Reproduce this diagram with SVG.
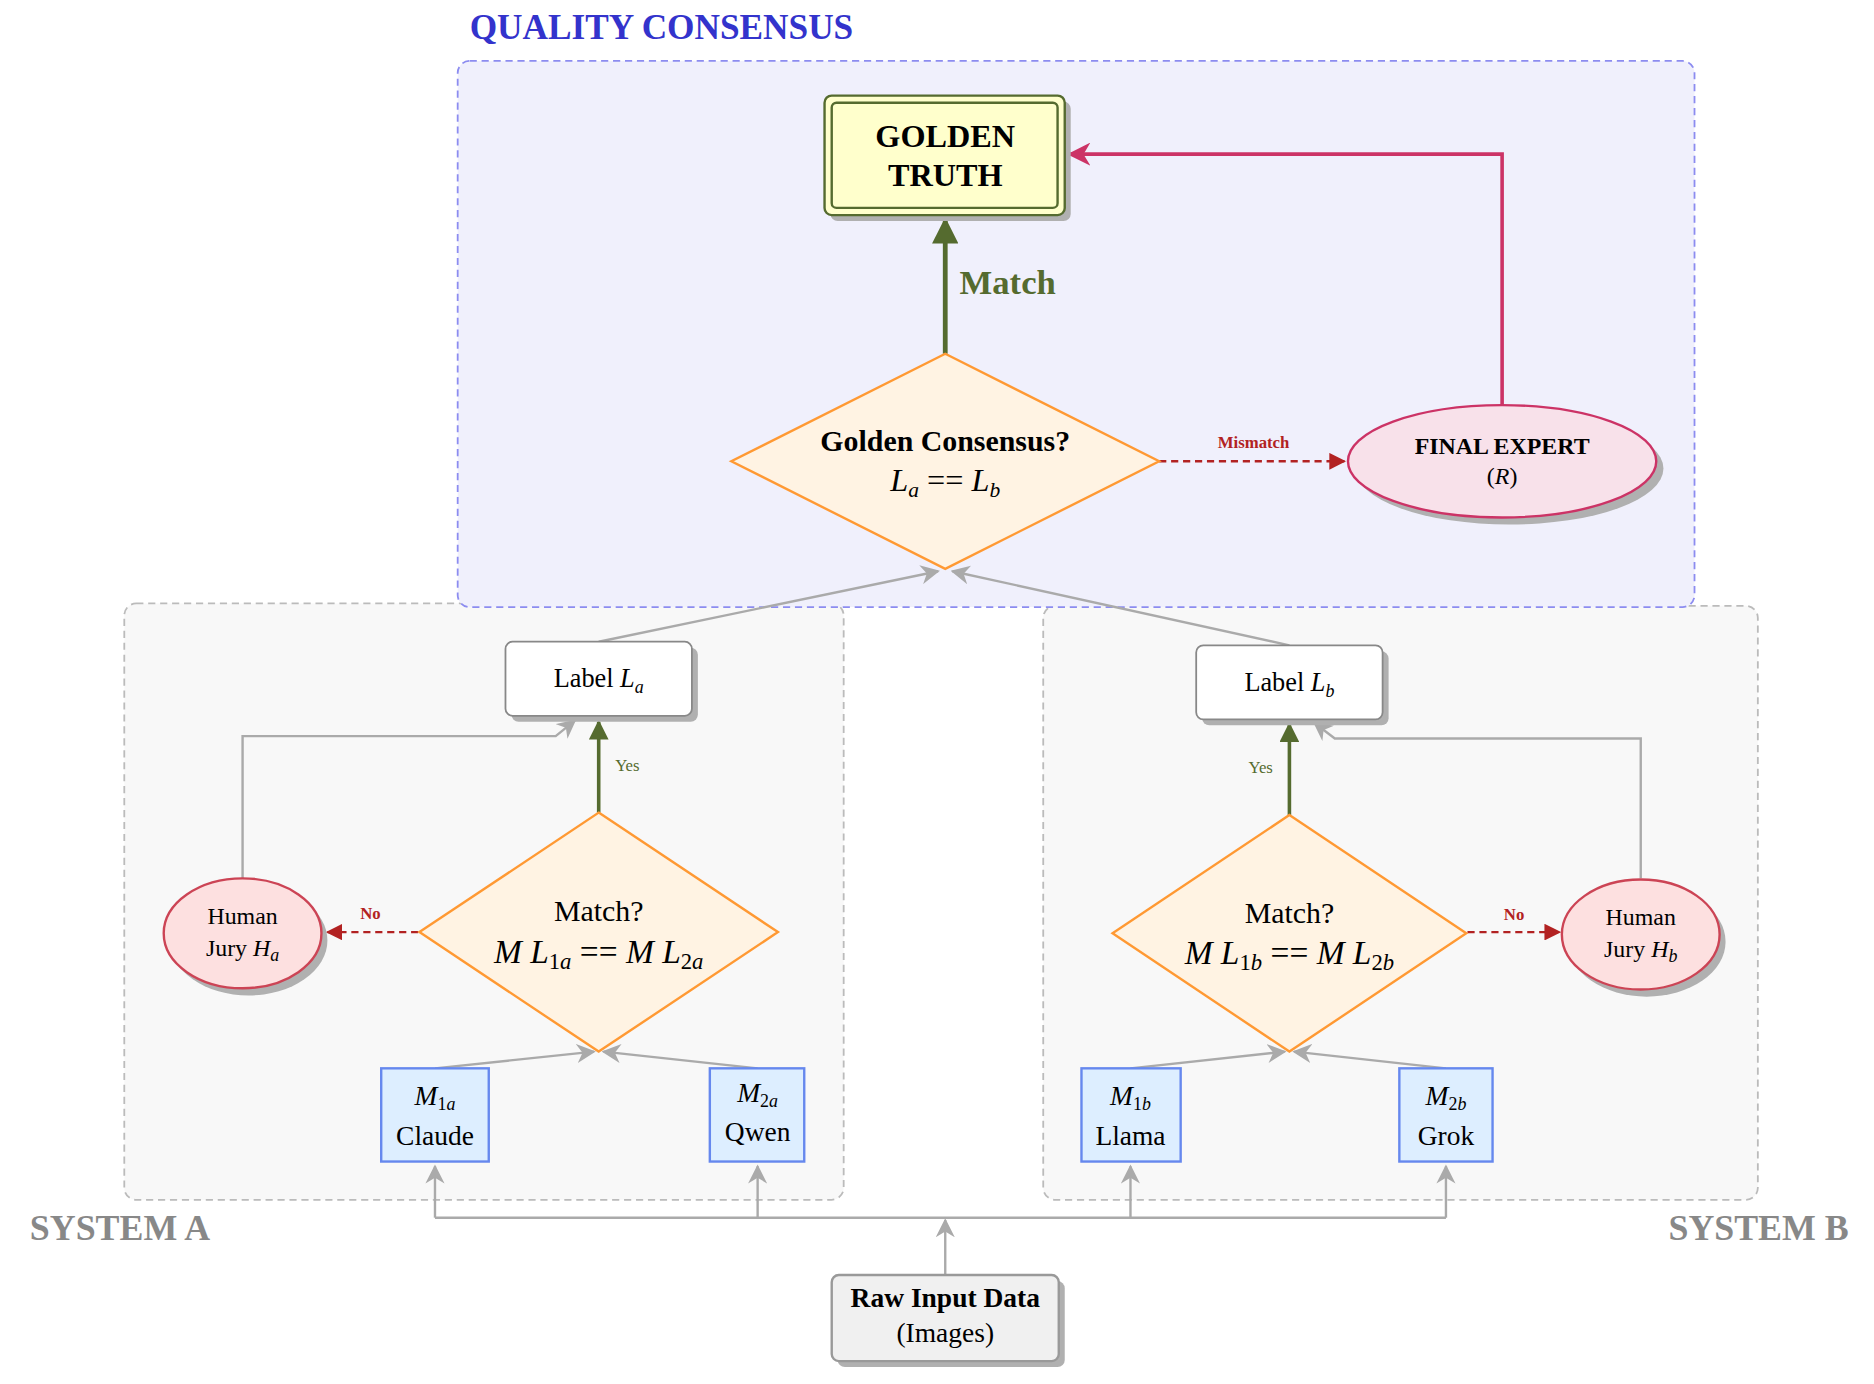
<svg xmlns="http://www.w3.org/2000/svg" width="1874" height="1384" viewBox="0 0 1874 1384">
<defs>
<style>
text{font-family:"Liberation Serif","DejaVu Serif",serif;text-anchor:middle;fill:#000}
.b{font-weight:bold}
.i{font-style:italic}
.sh{fill:#b0b0b0}
.gl{fill:none;stroke:#aaa;stroke-width:2}
</style>
<marker id="ag" viewBox="0 0 10 10" refX="9" refY="5" markerWidth="8" markerHeight="8" orient="auto"><path d="M0,0 L10,5 L0,10 L3,5 z" fill="#aaa"/></marker>
<marker id="ao" viewBox="0 0 10 10" refX="9" refY="5" markerWidth="5.5" markerHeight="5.5" orient="auto"><path d="M0,0 L10,5 L0,10 z" fill="#556b2f"/></marker>
<marker id="ar" viewBox="0 0 10 10" refX="9" refY="5" markerWidth="7" markerHeight="7" orient="auto"><path d="M0,0 L10,5 L0,10 z" fill="#b22222"/></marker>
<marker id="ap" viewBox="0 0 10 10" refX="9" refY="5" markerWidth="6.5" markerHeight="6.5" orient="auto"><path d="M0,0 L10,5 L0,10 L3,5 z" fill="#cc3366"/></marker>
</defs>
<rect width="1874" height="1384" fill="#fff"/>
<g transform="scale(1.195)">
<g id="containers">
<rect x="104" y="505" width="602" height="499" rx="10" fill="#f8f8f8" stroke="#bbb" stroke-width="1.5" stroke-dasharray="6,4"/>
<rect x="873" y="507" width="598" height="497" rx="10" fill="#f8f8f8" stroke="#bbb" stroke-width="1.5" stroke-dasharray="6,4"/>
<rect x="383" y="51" width="1035" height="457" rx="10" fill="#f0f0fc" stroke="#8c8cf0" stroke-width="1.5" stroke-dasharray="6,4"/>
<text x="393" y="33" class="b" style="text-anchor:start;font-size:29.5px;fill:#3333cc">QUALITY CONSENSUS</text>
<text x="25" y="1038" class="b" style="text-anchor:start;font-size:30px;fill:#888">SYSTEM A</text>
<text x="1547" y="1038" class="b" style="text-anchor:end;font-size:30px;fill:#888">SYSTEM B</text>
</g>
<g id="connectors">
<path d="M791,296 V184" stroke="#556b2f" stroke-width="4" fill="none" marker-end="url(#ao)"/>
<text x="803" y="246" class="b" style="text-anchor:start;font-size:29px;fill:#556b2f">Match</text>
<path d="M970,386 H1125" stroke="#b22222" stroke-width="2" stroke-dasharray="6,4" fill="none" marker-end="url(#ar)"/>
<text x="1049" y="375" class="b" style="font-size:14px;fill:#b22222">Mismatch</text>
<path d="M1257,339 V129 H895" stroke="#cc3366" stroke-width="3" fill="none" marker-end="url(#ap)"/>
<path d="M501,537 L785,478" class="gl" marker-end="url(#ag)"/>
<path d="M1079,540 L797,478" class="gl" marker-end="url(#ag)"/>
<path d="M501,680 V604" stroke="#556b2f" stroke-width="3" fill="none" marker-end="url(#ao)"/>
<text x="525" y="645" style="font-size:14px;fill:#556b2f">Yes</text>
<path d="M1079,682 V606" stroke="#556b2f" stroke-width="3" fill="none" marker-end="url(#ao)"/>
<text x="1055" y="647" style="font-size:14px;fill:#556b2f">Yes</text>
<path d="M350,780 H274" stroke="#b22222" stroke-width="2" stroke-dasharray="6,4" fill="none" marker-end="url(#ar)"/>
<text x="310" y="769" class="b" style="font-size:14px;fill:#b22222">No</text>
<path d="M1228,780 H1305" stroke="#b22222" stroke-width="2" stroke-dasharray="6,4" fill="none" marker-end="url(#ar)"/>
<text x="1267" y="770" class="b" style="font-size:14px;fill:#b22222">No</text>
<path d="M203,735 V616 H465 L481,603" class="gl" marker-end="url(#ag)"/>
<path d="M1373,735 V618 H1117 L1100,605" class="gl" marker-end="url(#ag)"/>
<path d="M364,894 L497,880" class="gl" marker-end="url(#ag)"/>
<path d="M634,894 L505,880" class="gl" marker-end="url(#ag)"/>
<path d="M946,894 L1075,880" class="gl" marker-end="url(#ag)"/>
<path d="M1210,894 L1083,880" class="gl" marker-end="url(#ag)"/>
<path d="M791,1067 V1021" class="gl" marker-end="url(#ag)"/>
<path d="M364,1019 H1210" class="gl"/>
<path d="M364,1019 V976" class="gl" marker-end="url(#ag)"/>
<path d="M634,1019 V976" class="gl" marker-end="url(#ag)"/>
<path d="M946,1019 V976" class="gl" marker-end="url(#ag)"/>
<path d="M1210,1019 V976" class="gl" marker-end="url(#ag)"/>
</g>
<g id="golden-truth">
<rect x="695" y="85" width="201" height="100" rx="6" class="sh"/>
<rect x="690" y="80" width="201" height="100" rx="6" fill="#ffffcc" stroke="#556b2f" stroke-width="2"/>
<rect x="696" y="86" width="189" height="88" rx="4" fill="none" stroke="#556b2f" stroke-width="2"/>
<text x="791" y="123" class="b" style="font-size:27px">GOLDEN</text>
<text x="791" y="156" class="b" style="font-size:27px">TRUTH</text>
</g>
<g id="golden-consensus">
<path d="M791,296 L970,386 L791,476 L612,386 z" fill="#fff3e3" stroke="#ff9933" stroke-width="2"/>
<text x="791" y="377" class="b" style="font-size:25px">Golden Consensus?</text>
<text x="791" y="411" style="font-size:27px"><tspan class="i">L</tspan><tspan class="i" dy="5" font-size="18">a</tspan><tspan dy="-5"> == </tspan><tspan class="i">L</tspan><tspan class="i" dy="5" font-size="18">b</tspan></text>
</g>
<g id="final-expert">
<ellipse cx="1263" cy="392" rx="129" ry="47" class="sh"/>
<ellipse cx="1257" cy="386" rx="129" ry="47" fill="#f8e1ea" stroke="#cc3366" stroke-width="2"/>
<text x="1257" y="380" class="b" style="font-size:20px">FINAL EXPERT</text>
<text x="1257" y="405" style="font-size:20px">(<tspan class="i">R</tspan>)</text>
</g>
<g id="label-a">
<rect x="428" y="542" width="156" height="62" rx="6" class="sh"/>
<rect x="423" y="537" width="156" height="62" rx="6" fill="#fff" stroke="#888" stroke-width="1.5"/>
<text x="501" y="575" style="font-size:22px">Label <tspan class="i">L</tspan><tspan class="i" dy="5" font-size="15">a</tspan></text>
</g>
<g id="label-b">
<rect x="1006" y="545" width="156" height="62" rx="6" class="sh"/>
<rect x="1001" y="540" width="156" height="62" rx="6" fill="#fff" stroke="#888" stroke-width="1.5"/>
<text x="1079" y="578" style="font-size:22px">Label <tspan class="i">L</tspan><tspan class="i" dy="5" font-size="15">b</tspan></text>
</g>
<g id="match-a">
<path d="M501,680 L651,780 L501,880 L351,780 z" fill="#fff3e3" stroke="#ff9933" stroke-width="2"/>
<text x="501" y="771" style="font-size:25px">Match?</text>
<text x="501" y="806" style="font-size:28px"><tspan class="i">M L</tspan><tspan dy="5" font-size="19">1<tspan class="i">a</tspan></tspan><tspan dy="-5"> == </tspan><tspan class="i">M L</tspan><tspan dy="5" font-size="19">2<tspan class="i">a</tspan></tspan></text>
</g>
<g id="match-b">
<path d="M1079,682 L1227,781 L1079,880 L931,781 z" fill="#fff3e3" stroke="#ff9933" stroke-width="2"/>
<text x="1079" y="772" style="font-size:25px">Match?</text>
<text x="1079" y="807" style="font-size:28px"><tspan class="i">M L</tspan><tspan dy="5" font-size="19">1<tspan class="i">b</tspan></tspan><tspan dy="-5"> == </tspan><tspan class="i">M L</tspan><tspan dy="5" font-size="19">2<tspan class="i">b</tspan></tspan></text>
</g>
<g id="jury-a">
<ellipse cx="208" cy="787" rx="66" ry="46" class="sh"/>
<ellipse cx="203" cy="781" rx="66" ry="46" fill="#fde0e0" stroke="#cc4455" stroke-width="2"/>
<text x="203" y="773" style="font-size:20px">Human</text>
<text x="203" y="800" style="font-size:20px">Jury <tspan class="i">H</tspan><tspan class="i" dy="4" font-size="15">a</tspan></text>
</g>
<g id="jury-b">
<ellipse cx="1378" cy="788" rx="66" ry="46" class="sh"/>
<ellipse cx="1373" cy="782" rx="66" ry="46" fill="#fde0e0" stroke="#cc4455" stroke-width="2"/>
<text x="1373" y="774" style="font-size:20px">Human</text>
<text x="1373" y="801" style="font-size:20px">Jury <tspan class="i">H</tspan><tspan class="i" dy="4" font-size="15">b</tspan></text>
</g>
<g id="m1a">
<rect x="319" y="894" width="90" height="78" fill="#ddeeff" stroke="#6688ee" stroke-width="2"/>
<text x="364" y="925" style="font-size:23px"><tspan class="i">M</tspan><tspan dy="4" font-size="15">1<tspan class="i">a</tspan></tspan></text>
<text x="364" y="958" style="font-size:23px">Claude</text>
</g>
<g id="m2a">
<rect x="594" y="894" width="79" height="78" fill="#ddeeff" stroke="#6688ee" stroke-width="2"/>
<text x="634" y="922" style="font-size:23px"><tspan class="i">M</tspan><tspan dy="4" font-size="15">2<tspan class="i">a</tspan></tspan></text>
<text x="634" y="955" style="font-size:23px">Qwen</text>
</g>
<g id="m1b">
<rect x="905" y="894" width="83" height="78" fill="#ddeeff" stroke="#6688ee" stroke-width="2"/>
<text x="946" y="925" style="font-size:23px"><tspan class="i">M</tspan><tspan dy="4" font-size="15">1<tspan class="i">b</tspan></tspan></text>
<text x="946" y="958" style="font-size:23px">Llama</text>
</g>
<g id="m2b">
<rect x="1171" y="894" width="78" height="78" fill="#ddeeff" stroke="#6688ee" stroke-width="2"/>
<text x="1210" y="925" style="font-size:23px"><tspan class="i">M</tspan><tspan dy="4" font-size="15">2<tspan class="i">b</tspan></tspan></text>
<text x="1210" y="958" style="font-size:23px">Grok</text>
</g>
<g id="raw-input">
<rect x="701" y="1072" width="190" height="72" rx="6" class="sh"/>
<rect x="696" y="1067" width="190" height="72" rx="6" fill="#f0f0f0" stroke="#999" stroke-width="2"/>
<text x="791" y="1094" class="b" style="font-size:23px">Raw Input Data</text>
<text x="791" y="1123" style="font-size:23px">(Images)</text>
</g>
</g>
</svg>
